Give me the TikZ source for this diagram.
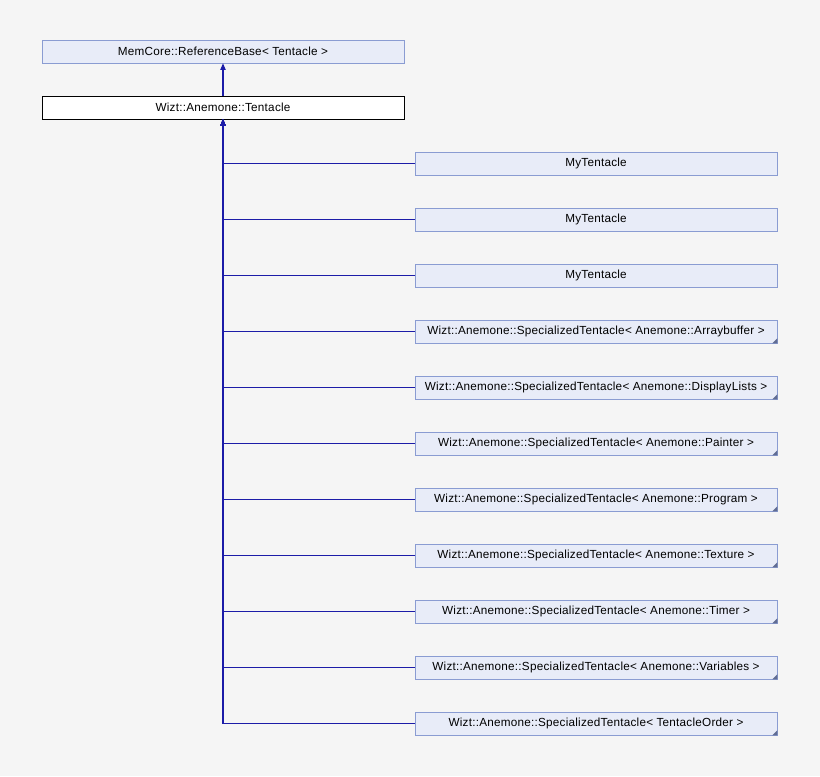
\documentclass[tikz,border=0pt]{standalone}
\usepackage{fontspec}
\setmainfont{Liberation Sans}[LetterSpace=2]
\usetikzlibrary{positioning,arrows.meta}
\definecolor{edgeblue}{HTML}{1C1CA8}
\definecolor{boxfill}{HTML}{E8ECF8}
\definecolor{boxline}{HTML}{8A9CD2}
\definecolor{pagebg}{HTML}{F5F5F5}
\begin{document}
\begin{tikzpicture}[x=0.75pt,y=-0.75pt,
    klass/.style = {draw=boxline,fill=boxfill,minimum width=271.5pt,minimum height=17.25pt,
                    inner sep=0pt,font=\fontsize{8.8}{10}\selectfont},
    current/.style = {klass,draw=black,fill=white},
    arrow/.style = {draw=edgeblue,line width=0.8pt,-{Triangle[width=4pt,length=5pt]}}]
    \fill[pagebg] (0,0) rectangle (820,776);

    \node [klass] (base) at (223,51.5) {MemCore::ReferenceBase< Tentacle >};
    \node [current] (tent) at (223,107.5) {Wizt::Anemone::Tentacle};
    \draw[arrow] (tent) -- (base);

    \foreach \name [count=\i] in {MyTentacle,MyTentacle,MyTentacle,
        Wizt::Anemone::SpecializedTentacle< Anemone::Arraybuffer >,
        Wizt::Anemone::SpecializedTentacle< Anemone::DisplayLists >,
        Wizt::Anemone::SpecializedTentacle< Anemone::Painter >,
        Wizt::Anemone::SpecializedTentacle< Anemone::Program >,
        Wizt::Anemone::SpecializedTentacle< Anemone::Texture >,
        Wizt::Anemone::SpecializedTentacle< Anemone::Timer >,
        Wizt::Anemone::SpecializedTentacle< Anemone::Variables >,
        Wizt::Anemone::SpecializedTentacle< TentacleOrder >}{
      \node [klass] (child\i) at (596,107.5+56*\i) {\name};
      \ifnum\i>3
        \fill[boxline!70!black] (child\i.south east) -- ++(-5,0) -- ++(5,-5) -- cycle;
      \fi
      \draw[arrow] (child\i.west) -| (tent.south);
    }
\end{tikzpicture}
\end{document}
